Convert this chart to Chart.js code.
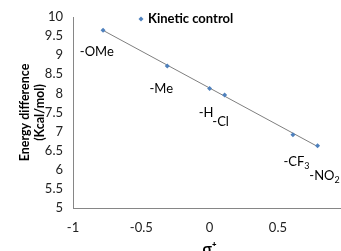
<!DOCTYPE html>
<html>
<head>
<meta charset="utf-8">
<script src="https://cdn.jsdelivr.net/npm/chart.js@4.4.1/dist/chart.umd.min.js"></script>
<style>
  html, body { margin: 0; padding: 0; background: #fff; overflow: hidden; }
  #wrap { width: 358px; height: 262px; }
</style>
</head>
<body>
<div id="wrap"><canvas id="chart" width="358" height="262"></canvas></div>
<script>
// sigma+ values and energies
const sigmaPlus = [-0.78, -0.31, 0.0, 0.11, 0.61, 0.79];
const energy = [9.65, 8.72, 8.13, 7.96, 6.92, 6.63];
// linear trendline end points
const trendX = [-0.78, 0.79];
const trendY = [9.65, 6.61];
// substituent labels and where they sit (data units)
const subLabels = ['-OMe', '-Me', '-H', '-Cl', '-CF', '-NO'];
const subSub = ['', '', '', '', '3', '2'];
const labelX = [-0.95, -0.44, -0.08, 0.02, 0.54, 0.73];
const labelY = [9.09, 8.13, 7.5, 7.26, 6.2, 5.83];
const xTicks = [-1, -0.5, 0, 0.5, 1];
const yTicks = [5, 5.5, 6, 6.5, 7, 7.5, 8, 8.5, 9, 9.5, 10];

const FONT = 'Lato, "Open Sans", sans-serif';
const axisColor = '#868686';

const labelsPlugin = {
  id: 'subLabels',
  afterDatasetsDraw(chart) {
    const ctx = chart.ctx;
    const xs = chart.scales.x, ys = chart.scales.y;
    ctx.save();
    ctx.fillStyle = '#000';
    ctx.textBaseline = 'middle';
    ctx.textAlign = 'left';
    subLabels.forEach((t, i) => {
      const px = xs.getPixelForValue(labelX[i]);
      const py = ys.getPixelForValue(labelY[i]);
      ctx.font = '13px ' + FONT;
      ctx.fillText(t, px, py);
      if (subSub[i]) {
        const w = ctx.measureText(t).width;
        ctx.font = '9px ' + FONT;
        ctx.fillText(subSub[i], px + w, py + 4);
      }
    });
    // legend inside plot
    const lx = 141, ly = 19;
    ctx.fillStyle = '#4F81BD';
    ctx.beginPath();
    ctx.moveTo(lx, ly - 2.5); ctx.lineTo(lx + 2.5, ly); ctx.lineTo(lx, ly + 2.5); ctx.lineTo(lx - 2.5, ly);
    ctx.closePath(); ctx.fill();
    ctx.fillStyle = '#000';
    ctx.font = 'bold 13px ' + FONT;
    ctx.fillText('Kinetic control', 148, ly);
    ctx.restore();
  }
};

new Chart(document.getElementById('chart'), {
  type: 'scatter',
  data: {
    datasets: [
      {
        label: 'Kinetic control',
        data: sigmaPlus.map((x, i) => ({ x: x, y: energy[i] })),
        pointStyle: 'rectRot',
        pointRadius: 2.5,
        backgroundColor: '#4F81BD',
        borderColor: '#4F81BD',
        borderWidth: 0,
        order: 1
      },
      {
        label: 'trend',
        data: trendX.map((x, i) => ({ x: x, y: trendY[i] })),
        showLine: true,
        pointRadius: 0,
        borderColor: '#7f7f7f',
        borderWidth: 1,
        order: 2
      }
    ]
  },
  options: {
    responsive: false,
    animation: false,
    layout: { padding: { left: 0, right: 7, top: 17, bottom: 0 } },
    plugins: { legend: { display: false }, tooltip: { enabled: false } },
    scales: {
      x: {
        type: 'linear', min: -1, max: 1,
        afterBuildTicks: s => { s.ticks = xTicks.map(v => ({ value: v })); },
        afterFit: s => { s.height = 54; },
        ticks: { color: '#222', font: { family: FONT, size: 13 }, padding: 8, callback: v => String(v) },
        grid: { display: false, drawOnChartArea: false, drawTicks: true, tickLength: 4, color: axisColor },
        border: { display: true, color: axisColor },
        title: { display: true, text: 'σ⁺', color: '#000', font: { family: FONT, size: 15, weight: 'bold' }, padding: { top: 8 } }
      },
      y: {
        type: 'linear', min: 5, max: 10,
        afterBuildTicks: s => { s.ticks = yTicks.map(v => ({ value: v })); },
        afterFit: s => { s.width = 73; },
        ticks: { color: '#222', font: { family: FONT, size: 13 }, padding: 6, callback: v => String(v) },
        grid: { display: false, drawOnChartArea: false, drawTicks: true, tickLength: 4, color: axisColor },
        border: { display: true, color: axisColor },
        title: { display: true, text: ['Energy difference', '(Kcal/mol)'], color: '#000', font: { family: FONT, size: 12.5, weight: 'bold' }, padding: { top: 17, bottom: 0 } }
      }
    }
  },
  plugins: [labelsPlugin]
});
</script>
</body>
</html>
